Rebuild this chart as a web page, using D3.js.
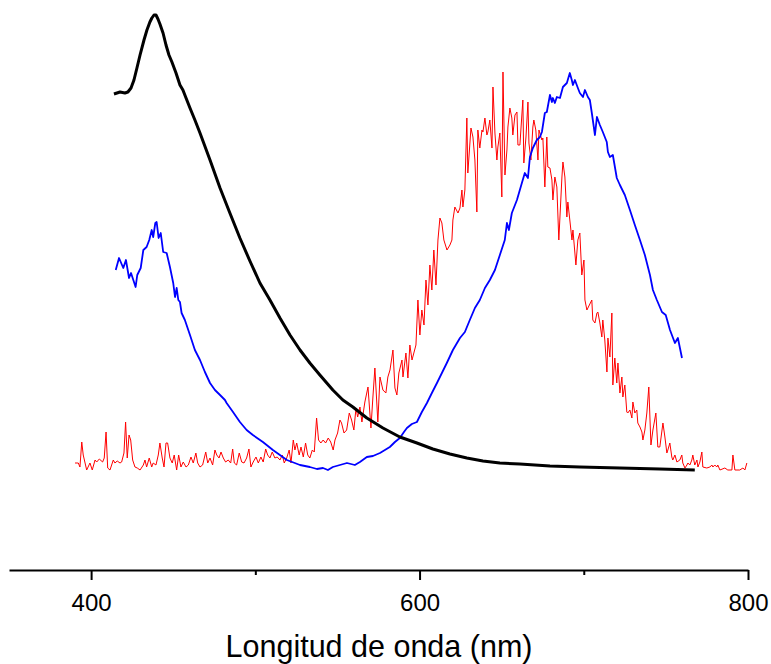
<!DOCTYPE html>
<html>
<head>
<meta charset="utf-8">
<script src="https://cdn.jsdelivr.net/npm/d3@7"></script>
<style>
  html, body { margin: 0; padding: 0; background: #fff; }
  svg { display: block; }
</style>
</head>
<body>
<svg id="chart" width="771" height="664"></svg>
<script>
// Wavelength (nm), intensity (arbitrary units)
const blackNm = [413.9,417.6,420.6,422.4,424.3,426.1,427.9,429.8,432.2,434.0,435.8,437.0,438.3,439.5,440.7,441.9,443.8,445.6,447.4,449.2,451.7,454.1,455.9,457.8,460.2,463.2,466.3,472.4,478.5,484.5,490.6,496.7,502.8,508.9,515.0,521.1,527.2,533.2,539.3,547.2,553.3,559.4,567.9,577.7,588.0,598.4,608.1,618.5,628.8,638.6,648.9,661.1,679.4,697.6,722.0,746.3,767.6];
const blackVal = [376,378,377,378,382,390,402,415,430,440,448,452,455,455,451,446,437,425,415,408,397,385,380,372,362,350,337,310,282,257,232,209,187,170,152,135,120,107,95,80,70,63,52,42,33,27,21,16,12,9,7,6,4,3,2,1,0];

const blueNm = [415.0,417.0,419.6,421.2,423.1,424.3,427.1,428.1,430.2,431.8,433.8,435.4,436.9,437.8,439.1,439.9,441.1,442.4,443.9,446.0,448.0,450.0,451.1,452.1,453.1,454.1,455.1,457.1,460.2,463.2,466.3,469.3,472.4,475.4,478.5,481.5,482.5,486.4,490.6,494.7,498.5,504.6,510.7,519.2,527.2,533.2,537.5,541.2,544.2,547.2,551.5,555.8,560.6,563.7,567.9,571.6,575.9,578.9,581.9,585.0,588.0,590.5,592.3,595.3,598.4,601.4,604.5,607.5,610.6,613.6,616.6,620.3,624.6,627.6,630.6,633.7,636.7,639.8,642.8,645.9,648.9,651.9,653.2,654.4,656.2,659.3,662.3,664.1,666.0,667.2,669.0,671.4,673.3,674.5,676.3,677.5,679.4,680.6,681.2,682.4,683.6,685.5,687.3,689.7,691.5,692.7,693.4,694.6,696.4,697.6,699.5,700.7,702.5,703.7,704.9,706.8,708.0,709.8,711.6,714.0,714.7,715.9,717.7,720.1,722.0,725.0,728.1,731.1,734.2,737.2,740.3,742.1,744.5,747.6,749.9,752.5,755.5,757.3,759.8];
const blueVal = [200,212,202,210,192,197,183,195,202,220,223,230,240,233,247,248,232,237,218,217,203,187,173,182,170,168,157,150,135,120,110,98,87,80,75,70,67,58,48,40,35,28,20,10,5,3,1,2,0,3,5,7,5,8,13,14,17,20,23,28,32,38,42,46,48,58,67,77,87,97,107,120,132,138,150,162,170,182,190,200,215,230,247,240,257,270,287,297,292,313,322,330,333,338,357,358,375,368,372,367,373,372,383,387,397,390,385,390,382,377,373,380,373,370,357,335,353,345,338,328,318,313,315,292,285,275,260,245,230,215,195,180,170,158,155,140,127,132,112];

const redNm = [390.2,392.2,393.2,394.3,395.2,397.3,399.3,400.7,402.4,403.4,405.0,407.0,408.0,409.1,410.1,411.5,413.5,414.5,415.9,417.6,418.6,420.0,421.0,422.0,423.1,424.1,425.3,426.7,428.1,429.8,431.8,432.8,433.8,435.4,436.9,437.8,439.5,440.9,441.9,443.3,444.4,445.6,446.6,448.0,449.4,450.6,452.1,453.3,454.7,456.1,457.8,459.2,460.8,462.2,463.8,464.9,466.3,467.9,469.8,471.0,472.4,474.0,475.4,476.5,477.9,479.1,480.5,481.9,483.5,485.0,486.2,487.2,488.6,490.2,491.7,493.1,494.7,496.1,497.3,498.7,500.4,501.8,503.4,504.8,506.3,507.5,508.9,510.3,511.9,513.3,515.0,516.4,517.6,519.1,520.6,521.7,523.1,524.1,525.2,526.7,527.8,529.2,530.6,531.9,533.2,534.7,535.9,537.3,538.5,539.9,541.3,542.8,544.4,545.9,547.4,548.5,550.1,551.5,552.5,554.0,555.6,557.2,558.6,560.0,561.3,562.3,563.7,564.9,566.7,568.6,570.4,571.6,572.8,574.6,575.9,577.7,579.5,580.7,582.0,583.8,585.0,586.2,587.4,589.3,589.9,591.7,592.9,594.1,595.4,597.8,599.0,600.2,601.4,602.7,603.9,605.1,606.3,607.5,608.7,610.0,611.2,612.4,613.6,614.8,616.7,618.5,619.7,620.3,621.5,623.4,624.6,625.8,626.4,627.6,628.8,629.4,631.3,632.5,633.7,634.9,635.5,636.7,638.0,638.6,639.8,641.0,641.6,642.8,644.1,644.7,645.9,647.1,647.7,648.9,650.1,650.8,652.0,653.2,653.8,655.0,656.2,656.8,658.1,659.3,659.9,661.1,662.9,663.5,664.8,666.0,666.6,667.8,669.0,669.6,670.8,672.1,672.7,674.5,675.1,676.3,677.5,678.1,679.4,680.6,681.2,682.4,683.6,684.8,686.7,687.3,688.5,689.7,690.3,691.5,692.8,693.4,695.2,696.4,697.6,698.8,700.1,700.7,701.9,704.9,705.5,706.8,708.0,708.6,709.8,711.0,711.6,712.8,714.1,714.7,715.9,717.1,717.7,718.9,720.1,720.8,722.0,723.2,723.8,725.0,726.2,726.8,728.1,729.3,729.9,731.1,732.3,732.9,734.2,735.4,736.0,737.2,738.4,739.6,740.9,742.1,743.9,745.1,746.3,748.2,749.4,750.6,751.2,752.4,753.6,754.2,755.5,756.7,758.5,759.7,760.3,761.6,762.8,763.4,764.6,765.8,766.4,767.6,768.9,769.5,770.7,771.9,772.5,774.9,776.8,778.0,778.6,779.8,781.0,781.6,782.9,785.9,787.7,790.2,790.8,792.0,795.0,796.9,798.1,799.3];
const redVal = [7,7,3,28,15,0,7,0,10,8,11,8,12,38,2,0,10,7,9,7,8,17,48,12,35,30,10,3,2,0,5,10,3,12,3,7,5,15,27,12,3,27,27,12,7,15,0,15,3,8,3,5,13,7,17,7,3,5,18,7,12,5,20,15,12,18,12,8,10,7,21,7,5,17,8,7,12,21,3,8,13,7,13,8,21,15,12,18,12,13,10,15,7,12,20,7,30,20,27,15,23,13,27,15,12,20,18,52,30,27,30,27,32,28,20,30,37,50,47,37,40,57,50,40,62,53,63,48,68,83,42,73,102,48,93,80,77,93,100,120,82,75,97,110,93,117,92,125,110,125,170,135,160,145,190,165,205,180,220,185,230,252,247,230,220,225,230,250,263,257,262,280,263,280,352,297,342,333,310,258,340,322,340,338,352,335,338,350,322,383,337,310,323,337,273,398,295,320,343,362,352,335,355,358,325,325,370,307,333,368,327,310,343,350,340,310,340,330,332,283,333,303,302,290,270,293,283,230,293,308,293,253,268,250,230,240,205,230,237,195,210,170,160,170,150,147,157,158,147,133,150,130,98,132,113,157,85,112,87,107,77,93,73,85,58,57,60,52,68,57,60,47,43,38,30,40,57,83,25,40,57,23,23,47,33,17,20,27,13,10,15,8,10,15,7,2,5,7,5,10,15,5,10,3,8,18,3,2,3,5,3,5,3,5,0,2,0,0,15,0,0,2,0,7];

const xTicksMajor = [400, 600, 800];
const xTicksMinor = [500, 700];
const xLabel = "Longitud de onda (nm)";

const svg = d3.select("#chart");
const x = d3.scaleLinear().domain([350, 800]).range([9, 748]);
const y = d3.scaleLinear().domain([0, 455]).range([470, 15]);

const series = [
  {nm: redNm, val: redVal, color: "#ff0000", width: 1},
  {nm: blueNm, val: blueVal, color: "#0000ff", width: 1.8},
  {nm: blackNm, val: blackVal, color: "#000000", width: 3}
];

const line = d3.line().x(d => x(d[0])).y(d => y(d[1]));

series.forEach(s => {
  const pts = s.nm.map((n, i) => [n, s.val[i]]);
  svg.append("path")
    .attr("d", line(pts))
    .attr("fill", "none")
    .attr("stroke", s.color)
    .attr("stroke-width", s.width)
    .attr("stroke-linejoin", "round");
});

const axisY = 570;
const gMinor = svg.append("g").attr("transform", `translate(0,${axisY})`)
  .call(d3.axisBottom(x).tickValues(xTicksMinor).tickSize(5).tickSizeOuter(0).tickFormat(""));
gMinor.select(".domain").remove();
gMinor.selectAll("line").attr("stroke", "#000").attr("stroke-width", 2);

const gMajor = svg.append("g").attr("transform", `translate(0,${axisY})`)
  .call(d3.axisBottom(x).tickValues(xTicksMajor).tickSize(10).tickSizeOuter(0).tickFormat(d3.format("d")));
gMajor.select(".domain").attr("stroke", "#000").attr("stroke-width", 2);
gMajor.selectAll("line").attr("stroke", "#000").attr("stroke-width", 2);
gMajor.selectAll("text")
  .attr("y", 41).attr("dy", null)
  .attr("fill", "#000")
  .style("font-family", "'Liberation Sans', Arial, sans-serif")
  .style("font-size", "24px");

svg.append("text")
  .attr("x", 379).attr("y", 657)
  .attr("text-anchor", "middle")
  .style("font-family", "'Liberation Sans', Arial, sans-serif")
  .style("font-size", "30.5px")
  .attr("fill", "#000")
  .text(xLabel);
</script>
</body>
</html>
